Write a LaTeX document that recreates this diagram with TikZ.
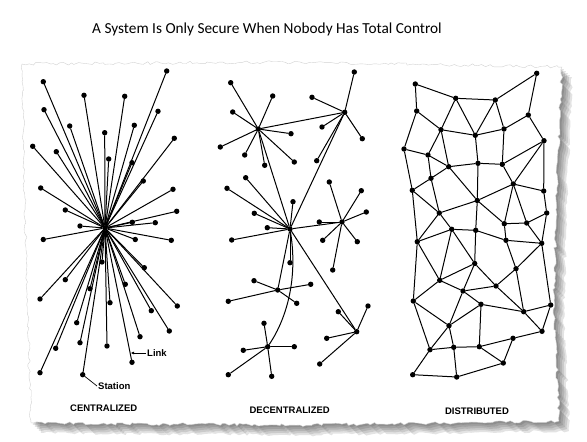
\documentclass[tikz,border=0pt]{standalone}
\usepackage{fontspec}
\setsansfont{Liberation Sans}
\newfontfamily\titlefont{Carlito}
\usetikzlibrary{arrows.meta,decorations.pathmorphing}

\begin{document}
\begin{tikzpicture} [x=1pt, y=-1pt,
    station/.style={circle, fill=black, inner sep=0pt, minimum size=5.4pt},
    link/.style={line width=1pt, line cap=round},
    caption/.style={font=\sffamily\bfseries\fontsize{9.5}{11}\selectfont},
    tag/.style={font=\sffamily\bfseries\fontsize{9.5}{11}\selectfont, anchor=west, inner sep=1pt},
    paper/.style={decorate, decoration={random steps, segment length=3.5pt, amplitude=1.5pt}}
  ]

\useasboundingbox (0,0) rectangle (587,442);

% torn sheet with its shadow
\foreach \s in {10,8,6,4,2} {
  \pgfmathsetseed{42}
  \fill[black, opacity=0.11, paper, xshift=\s pt, yshift=-\s pt]
    (22,64) -- (300,62) -- (562,67) -- (556,200) -- (554,300) -- (559,421)
    -- (300,425) -- (31,423) -- (26,250) -- cycle;
}
\pgfmathsetseed{42}
\filldraw[fill=white, draw=gray!35, line width=0.4pt, paper]
    (22,64) -- (300,62) -- (562,67) -- (556,200) -- (554,300) -- (559,421)
    -- (300,425) -- (31,423) -- (26,250) -- cycle;

\node[font=\titlefont\fontsize{15.3}{18}\selectfont] (title) at (267,29)
  {A System Is Only Secure When Nobody Has Total Control};

% centralized
\node[station] (chub) at (105,228) {};
\foreach \n/\x/\y in {1/43.3/81.7, 2/166.7/71, 3/84/95.3, 4/124.7/96.3, 5/44/109.7,
    6/158/111.3, 7/69.7/126, 8/134.3/125.3, 9/104.7/132.7, 10/174.3/138.3,
    11/32.7/146.3, 12/56.3/151.7, 13/108.7/159, 14/132/162.7, 15/143.3/181,
    16/40.7/188, 17/173/189.3, 18/65.3/210, 19/176.7/211.3, 20/80/226,
    21/132.3/222.3, 22/155.3/222.7, 23/43.3/239.5, 24/135.3/239.5, 25/171.3/240.3,
    26/102/262, 27/144.3/267.7, 28/65.3/279.7, 29/125.3/284.3, 30/90/288.7,
    31/40/299, 32/110/302.7, 33/177.3/306, 34/151.3/310.7, 35/76.7/322.7,
    36/169.3/331, 37/140/336.7, 38/80/342.7, 39/55.7/348.3, 40/107/346,
    41/132/362.3, 42/40/372.7, 43/82.7/374.7} {
  \node[station] (cn\n) at (\x,\y) {};
  \draw[link] (chub) -- (cn\n);
}
\node[tag] (linktag) at (146,353) {Link};
\coordinate (linktip) at (130.6,353);
\draw[line width=0.7pt, -{Latex[length=3.5pt,width=3pt]}] (linktag.west) -- (linktip);
\node[tag] (stationtag) at (97,386) {Station};
\draw[line width=0.7pt] (cn43) -- (stationtag.west);
\node[caption] (ccap) at (103.7,408) {CENTRALIZED};

% decentralized
\foreach \h/\x/\y in {A/258.3/129, B/344.7/112.3, C/290/229, D/342/222,
    E/356.7/331.7, F/277.7/290, G/267.7/346.7}
  \node[station] (h\h) at (\x,\y) {};
\foreach \h/\n/\x/\y in {A/1/230.7/82.7, A/2/272.7/96, A/3/232.7/112, A/4/291/133.7,
    A/5/220.3/147, A/6/244.7/155, A/7/264.7/165.3, A/8/294.3/162,
    B/1/354.3/72, B/2/312/97.3, B/3/322/127, B/4/362.3/138.7, B/5/316.7/160.7,
    C/1/245.7/177.7, C/2/227/188.3, C/3/293/201.7, C/4/254.3/213.3,
    C/5/267.3/227.7, C/6/231.7/240, C/7/290/262.7,
    D/1/329.3/182, D/2/361.3/190.7, D/3/366.3/212, D/4/319.3/222,
    D/5/322.7/240.3, D/6/357.3/241.7, D/7/332.7/270,
    E/1/338.3/311.7, E/2/368/306, E/3/326.7/338.3, E/4/319.7/364,
    F/1/254/280.7, F/2/310.7/284.3, F/3/228.3/301.3, F/4/296.7/303.3,
    G/1/264/323.3, G/2/243.3/350.3, G/3/294.3/346.7, G/4/228.3/374.7, G/5/271.7/376.3} {
  \node[station] (l\h\n) at (\x,\y) {};
  \draw[link] (h\h) -- (l\h\n);
}
\foreach \a/\b in {A/B, A/C, B/C, C/D, C/E, C/F}
  \draw[link] (h\a) -- (h\b);
\draw[link] (hC) .. controls (298,278) and (287,318) .. (hG);
\node[caption] (dcap) at (289.7,410) {DECENTRALIZED};

% distributed
\foreach \n/\x/\y in {1/415.3/84, 2/455.7/98.3, 3/495.3/100, 4/536.7/73.3,
    5/416.7/111, 6/441/129.7, 7/475.3/135.3, 8/504/129, 9/528.3/115, 10/544/140.7,
    11/404/149, 12/428/155, 13/448.7/166.7, 14/478/163.3, 15/502.3/164.3,
    16/431/178.3, 17/513.3/184, 18/412.3/190.3, 19/543.7/191, 20/477.3/200.5,
    21/439.3/213, 22/546.7/213, 23/504.3/223.7, 24/526.7/223, 25/451.7/229.3,
    26/475.7/230.3, 27/417.3/241.7, 28/506/240.3, 29/541.7/243.3,
    30/474.7/263.5, 31/516/268.7, 32/439.7/280.3, 33/496/286, 34/463/291,
    35/413.3/301, 36/481/304.3, 37/550.7/305, 38/523.7/311.7, 39/449/325.7,
    40/542/331.3, 41/513/338.3, 42/430/349.7, 43/453.7/347.3, 44/479.3/346.7,
    45/503.3/363, 46/412.7/374.7, 47/456.7/377}
  \node[station] (d\n) at (\x,\y) {};
\foreach \a/\b in {1/2, 1/5, 2/3, 3/4, 4/9, 2/6, 2/7, 3/7, 3/8, 5/6, 5/11, 6/7,
    7/8, 8/9, 9/10, 6/12, 6/13, 7/14, 8/15, 11/12, 12/13, 12/16, 13/14, 14/15,
    15/10, 10/17, 10/19, 13/16, 13/20, 14/20, 15/17, 17/20, 17/19, 16/18, 11/18,
    16/21, 18/21, 18/27, 20/21, 20/23, 20/26, 17/23, 17/24, 19/22, 22/24, 23/24,
    25/26, 21/25, 25/27, 21/27, 23/28, 24/29, 28/29, 26/28, 22/29,
    25/30, 25/32, 27/32, 27/35, 26/30, 28/31, 29/31, 29/37,
    30/32, 30/34, 30/33, 33/31, 31/38, 34/33, 34/36, 33/38, 36/38, 32/35, 32/34,
    35/39, 35/42, 34/39, 36/39, 36/44, 38/37, 38/40, 37/40, 40/41, 41/45, 41/44,
    44/45, 44/43, 43/42, 39/42, 39/43, 42/46, 43/47, 46/47, 47/45}
  \draw[link] (d\a) -- (d\b);
\node[caption] (bcap) at (477,411) {DISTRIBUTED};

\end{tikzpicture}
\end{document}
